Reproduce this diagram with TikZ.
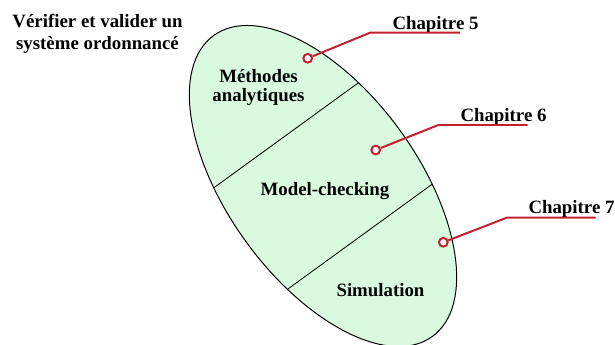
\documentclass[tikz,border=0pt]{standalone}
\usepackage{xcolor}
\usepackage{fontspec}
\setmainfont{Liberation Serif}
\usepackage{tikz}
\usetikzlibrary{arrows.meta, positioning, calc}
\definecolor{mintgreen}{HTML}{D9FADF}
\definecolor{chapred}{HTML}{C41E30}

\begin{document}
\begin{tikzpicture}[
    lbl/.style={align=center, inner sep=0pt, font=\fontsize{13.4}{15.4}\selectfont\bfseries},
    zone/.style={lbl, font=\fontsize{13.4}{14.2}\selectfont\bfseries},
    chap/.style={lbl, anchor=base},
    pin/.style={circle, draw=chapred, line width=1.4pt, fill=white, inner sep=0pt, minimum size=6.2pt},
    lead/.style={draw=chapred, line width=1.4pt},
    rim/.style={draw=black, line width=0.7pt},
    cut/.style={draw=black, line width=0.6pt},
]
\useasboundingbox (0,0) rectangle (15.375,-8.625);

% Title
\node[lbl] (title) at (2.4375,-0.85) {V\'erifier et valider un\\syst\`eme ordonnanc\'e};

% Ellipse with its three zones
\coordinate (ctr) at (8.075,-4.65);
\fill[mintgreen, rotate around={-54:(ctr)}] (ctr) ellipse [x radius=4.65cm, y radius=2.375cm];
\begin{scope}
  \clip[rotate around={-54:(ctr)}] (ctr) ellipse [x radius=4.65cm, y radius=2.375cm];
  \begin{scope}[shift={(ctr)}, rotate=-54]
    \draw[cut] (-1.5675,-3) -- (-1.5675,3);
    \draw[cut] (1.5675,-3) -- (1.5675,3);
  \end{scope}
\end{scope}
\draw[rim, rotate around={-54:(ctr)}] (ctr) ellipse [x radius=4.65cm, y radius=2.375cm];

\node[zone] (ana) at (6.4625,-2.1875) {M\'ethodes\\analytiques};
\node[zone] (mc) at (8.125,-4.7875) {Model-checking};
\node[zone] (sim) at (9.5125,-7.2625) {Simulation};

% Chapter labels
\node[chap] (ch5) at (10.8875,-0.725) {Chapitre 5};
\node[chap] (ch6) at (12.5875,-3.025) {Chapitre 6};
\node[chap] (ch7) at (14.2875,-5.325) {Chapitre 7};

% Leader lines
\coordinate (k5) at (9.25,-0.8175);
\coordinate (e5) at (11.5,-0.8175);
\coordinate (k6) at (10.9575,-3.125);
\coordinate (e6) at (13.1925,-3.125);
\coordinate (k7) at (12.6675,-5.4425);
\coordinate (e7) at (14.8925,-5.4425);
\node[pin] (p5) at (7.6925,-1.4575) {};
\node[pin] (p6) at (9.3925,-3.75) {};
\node[pin] (p7) at (11.0825,-6.0575) {};
\draw[lead] (p5) -- (k5) -- (e5);
\draw[lead] (p6) -- (k6) -- (e6);
\draw[lead] (p7) -- (k7) -- (e7);

\end{tikzpicture}
\end{document}
